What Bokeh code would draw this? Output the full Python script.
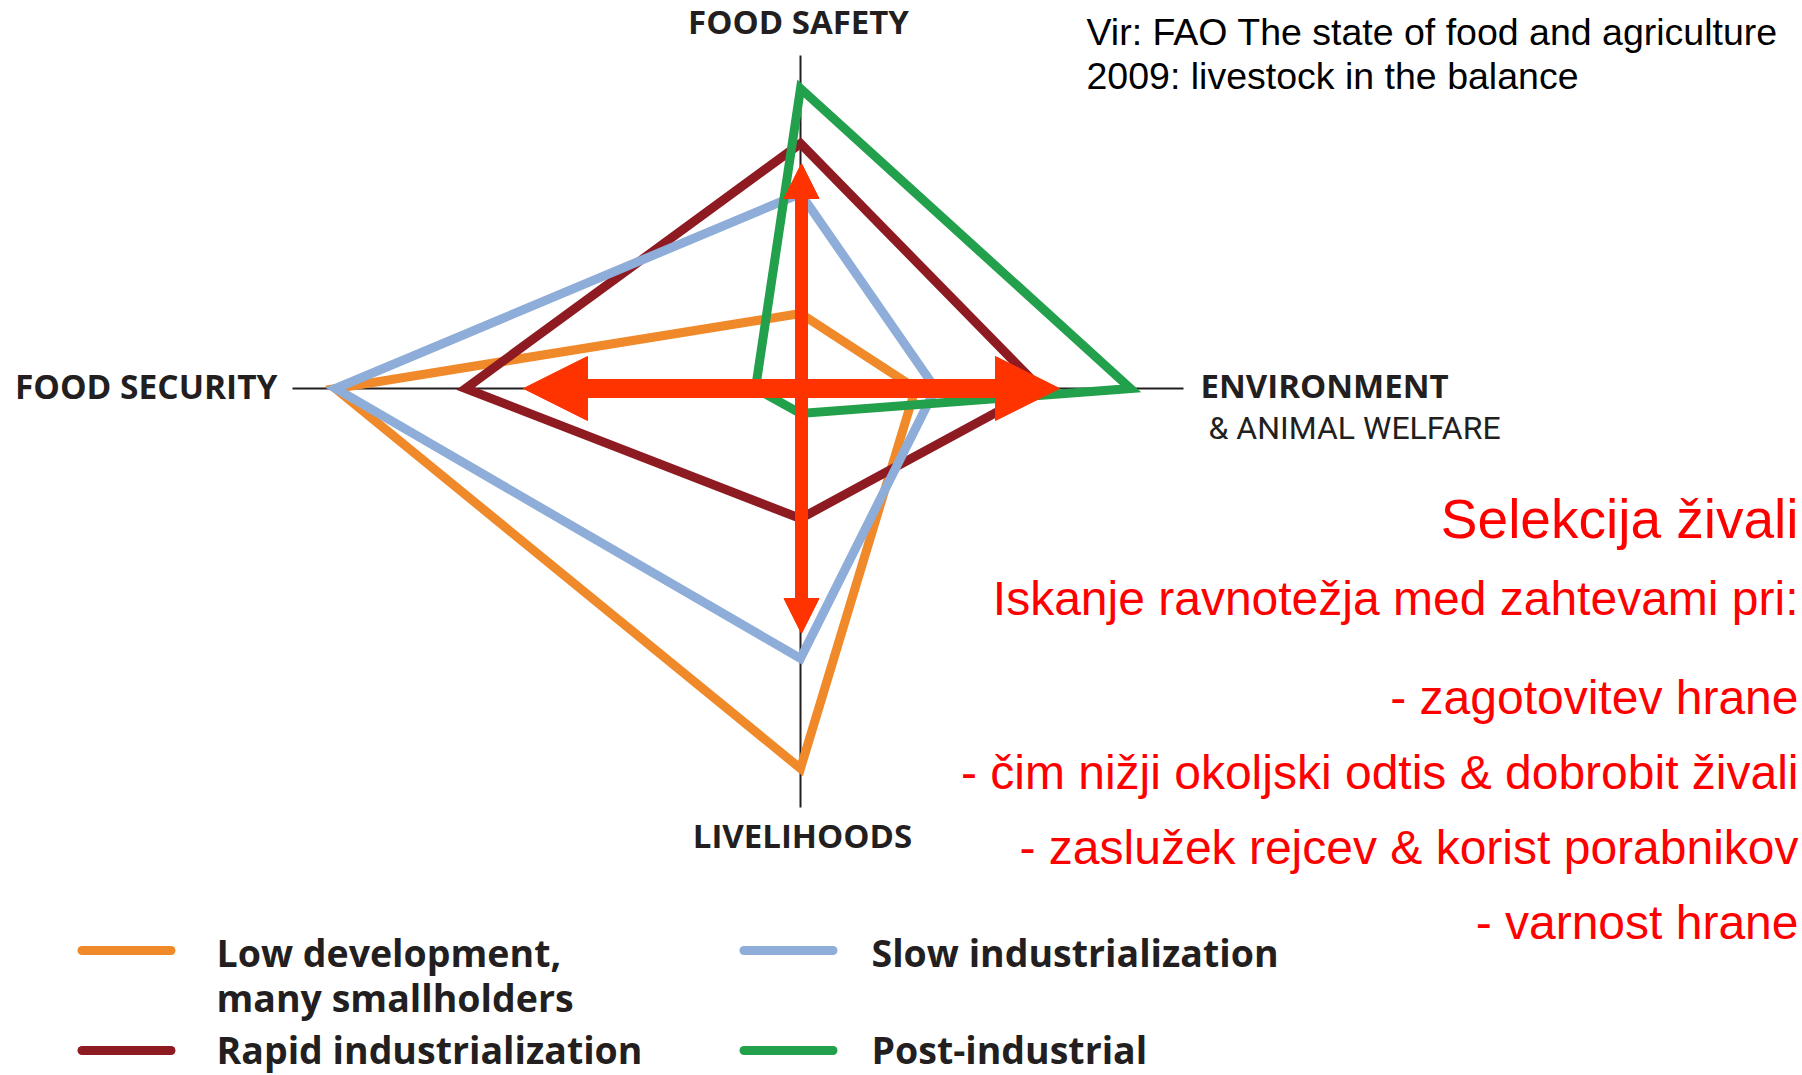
from bokeh.plotting import figure
from bokeh.models import Range1d, Arrow, NormalHead
from bokeh.core.properties import value
from bokeh.embed import file_html
from bokeh.resources import INLINE

# ---------------- data ----------------
axis_names = ["FOOD SAFETY", "ENVIRONMENT", "LIVELIHOODS", "FOOD SECURITY"]
axis_sub = "& ANIMAL WELFARE"

series_labels = ["Low development,\nmany smallholders", "Slow industrialization",
                 "Rapid industrialization", "Post-industrial"]
# scores on the four axes: safety, environment, livelihoods, security
low_development = [15, 23, 76, 93]
slow_industrialization = [39, 27, 54, 93]
rapid_industrialization = [49, 48, 26, 67]
post_industrial = [60, 66, 5, 9]
series_colors = ["#F0892A", "#8EADD8", "#8E1B21", "#22A04B"]

source_lines = ["Vir: FAO The state of food and agriculture",
                "2009: livestock in the balance"]
red_title = "Selekcija živali"
red_lines = ["Iskanje ravnotežja med zahtevami pri:",
             "- zagotovitev hrane",
             "- čim nižji okoljski odtis & dobrobit živali",
             "- zaslužek rejcev & korist porabnikov",
             "- varnost hrane"]

# ---------------- layout ----------------
W, H = 1802, 1075
p = figure(width=W, height=H, x_range=Range1d(0, W), y_range=Range1d(H, 0),
           output_backend="svg", toolbar_location=None, min_border=0,
           x_axis_location=None, y_axis_location=None)
p.grid.visible = False
p.outline_line_color = None
p.background_fill_color = "white"
p.border_fill_color = "white"

CX, CY, PX = 800, 388, 5.0
DIRS = [(0, -1), (1, 0), (0, 1), (-1, 0)]
AXIS_LEN = [333, 383, 419, 508]
DARK = "#231F20"

# axis lines
p.segment(x0=[CX + DIRS[0][0] * AXIS_LEN[0], CX + DIRS[3][0] * AXIS_LEN[3]],
          y0=[CY + DIRS[0][1] * AXIS_LEN[0], CY + DIRS[3][1] * AXIS_LEN[3]],
          x1=[CX + DIRS[2][0] * AXIS_LEN[2], CX + DIRS[1][0] * AXIS_LEN[1]],
          y1=[CY + DIRS[2][1] * AXIS_LEN[2], CY + DIRS[1][1] * AXIS_LEN[1]],
          line_color=DARK, line_width=2)

all_series = [low_development, slow_industrialization, rapid_industrialization, post_industrial]
draw_order = [0, 2, 1, 3]
for i in draw_order:
    vals = all_series[i]
    xs = [CX + d[0] * v * PX for d, v in zip(DIRS, vals)]
    ys = [CY + d[1] * v * PX for d, v in zip(DIRS, vals)]
    p.patch(xs, ys, fill_color=None, line_color=series_colors[i], line_width=9,
            line_join="miter")

# red arrows
AR = "#FF3300"
p.add_layout(Arrow(start=NormalHead(size=64, fill_color=AR, line_color=AR, line_width=1),
                   end=NormalHead(size=64, fill_color=AR, line_color=AR, line_width=1),
                   x_start=523, y_start=CY, x_end=1059, y_end=CY,
                   line_color=AR, line_width=19))
p.add_layout(Arrow(start=NormalHead(size=35, fill_color=AR, line_color=AR, line_width=1),
                   end=NormalHead(size=35, fill_color=AR, line_color=AR, line_width=1),
                   x_start=801, y_start=163, x_end=801, y_end=633,
                   line_color=AR, line_width=13))

# axis labels
lab = dict(text_font=value("Open Sans"), text_font_style="bold", text_font_size="33px",
           text_color=DARK, text_baseline="alphabetic")
p.text(x=[798], y=[21], text=[axis_names[0]], text_align="center", **lab)
p.text(x=[1200], y=[385], text=[axis_names[1]], text_align="left", **lab)
p.text(x=[802], y=[835], text=[axis_names[2]], text_align="center", **lab)
p.text(x=[277], y=[385], text=[axis_names[3]], text_align="right", text_font=value("Open Sans"),
       text_font_style="bold", text_font_size="33.5px", text_color=DARK,
       text_baseline="alphabetic")
p.text(x=[1208], y=[427], text=[axis_sub], text_align="left", text_baseline="alphabetic",
       text_font=value("Roboto"), text_font_size="32px", text_color=DARK)

# source text
p.text(x=[1086, 1086], y=[31, 75], text=source_lines, text_align="left",
       text_baseline="alphabetic", text_font=value("Liberation Sans"),
       text_font_size="37.5px", text_color="black")

# red text block
p.text(x=[1798], y=[518], text=[red_title], text_align="right", text_baseline="alphabetic",
       text_font=value("Liberation Sans"), text_font_size="55px", text_color="#FF0000")
p.text(x=[1798] * len(red_lines), y=[598, 697, 772, 847, 922], text=red_lines,
       text_align="right", text_baseline="alphabetic",
       text_font=value("Liberation Sans"), text_font_size="48px", text_color="#FF0000")

# legend (2 x 2)
SW_X = [77, 739]
LB_X = [216, 871]
ROW_Y = [950, 1050]
ROW_BASE = [952, 1049]
LINE_H = 45
slots = [(0, 0), (1, 0), (0, 1), (1, 1)]
for i, (col, row) in enumerate(slots):
    p.segment(x0=[SW_X[col] + 4.5], y0=[ROW_Y[row]], x1=[SW_X[col] + 98 - 4.5], y1=[ROW_Y[row]],
              line_color=series_colors[i], line_width=9, line_cap="round")
    for k, line in enumerate(series_labels[i].split("\n")):
        p.text(x=[LB_X[col]], y=[ROW_BASE[row] + k * LINE_H], text=[line],
               text_align="left", text_baseline="alphabetic",
               text_font=value("Open Sans"), text_font_style="bold",
               text_font_size="37.5px", text_color=DARK)

open("out.html", "w").write(file_html(p, INLINE))
